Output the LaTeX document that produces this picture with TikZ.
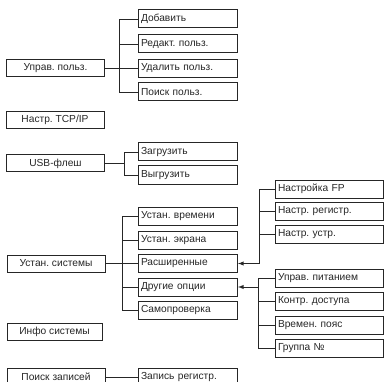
\documentclass[tikz,border=0pt]{standalone}
\usepackage{fontspec}
\setmainfont{Liberation Sans}
\usepackage{xcolor}
\usetikzlibrary{
  arrows,
  positioning}
\frenchspacing
\tikzset{every picture/.style={font issue=\fontsize{10.2}{12}},
         font issue/.style={execute at begin picture={#1\selectfont}},
         mainbox/.style={draw=black!85, line width=1pt, minimum width=98pt, minimum height=17pt, inner sep=1pt, text=black!85},
         subbox/.style={draw=black!85, line width=1pt, anchor=west, text width=94pt, inner xsep=2.5pt, minimum height=18pt, inner ysep=1pt, align=left, text=black!85},
         wide/.style={text width=103pt},
         link/.style={draw=black!85, line width=0.9pt}
        }
\begin{document}
\begin{tikzpicture}[x=1pt, y=-1pt, >=latex]
\clip (0,0) rectangle (385,382);

%Users
\node[mainbox] at (55.5,68.5) (user) {Управ. польз.};
\node[subbox] at (138,19) (add) {Добавить};
\node[subbox] at (138,44) (edit) {Редакт. польз.};
\node[subbox] at (138,68.5) (del) {Удалить польз.};
\node[subbox] at (138,92) (find) {Поиск польз.};
\coordinate (ub) at (119,0);
\draw[link] (user.east) -- (del.west);
\draw[link] (add.west) -- (add.west -| ub) |- (find.west);
\draw[link] (edit.west) -- (edit.west -| ub);

\node[mainbox] at (55,120) (tcp) {Настр. TCP/IP};

%USB
\node[mainbox] at (55.5,163.5) (usb) {USB-флеш};
\node[subbox] at (138,152) (load) {Загрузить};
\node[subbox] at (138,175) (unload) {Выгрузить};
\coordinate (fb) at (124,0);
\draw[link] (usb.east) -- (usb.east -| fb);
\draw[link] (load.west) -- (load.west -| fb) |- (unload.west);

%System
\node[mainbox] at (56,263.5) (sys) {Устан. системы};
\node[subbox] at (138,216) (time) {Устан. времени};
\node[subbox] at (138,240) (screen) {Устан. экрана};
\node[subbox] at (138,263.5) (adv) {Расширенные};
\node[subbox] at (138,287) (opt) {Другие опции};
\node[subbox] at (138,310) (test) {Самопроверка};
\coordinate (sb) at (122,0);
\draw[link] (sys.east) -- (adv.west);
\draw[link] (time.west) -- (time.west -| sb) |- (test.west);
\draw[link] (screen.west) -- (screen.west -| sb);
\draw[link] (opt.west) -- (opt.west -| sb);

\node[subbox, wide] at (275,189) (fp) {Настройка FP};
\node[subbox, wide] at (275,211) (reg) {Настр. регистр.};
\node[subbox, wide] at (275,234) (dev) {Настр. устр.};
\coordinate (ab) at (259.5,0);
\draw[link, <-] (adv.east) -- (adv.east -| ab) |- (fp.west);
\draw[link] (reg.west) -- (reg.west -| ab);
\draw[link] (dev.west) -- (dev.west -| ab);

\node[subbox, wide] at (275,278) (pwr) {Управ. питанием};
\node[subbox, wide] at (275,301) (acc) {Контр. доступа};
\node[subbox, wide] at (275,325) (zone) {Времен. пояс};
\node[subbox, wide] at (275,348) (grp) {Группа №};
\coordinate (ob) at (258,0);
\draw[link, <-] (opt.east) -- (opt.east -| ob);
\draw[link] (pwr.west) -- (pwr.west -| ob) |- (grp.west);
\draw[link] (acc.west) -- (acc.west -| ob);
\draw[link] (zone.west) -- (zone.west -| ob);

\node[mainbox, minimum width=95pt] at (54.5,332) (info) {Инфо системы};

%Records
\node[mainbox] at (56,377) (rec) {Поиск записей};
\node[subbox] at (138,377) (log) {Запись регистр.};
\draw[link] (rec.east) -- (log.west);
\end{tikzpicture}
\end{document}
